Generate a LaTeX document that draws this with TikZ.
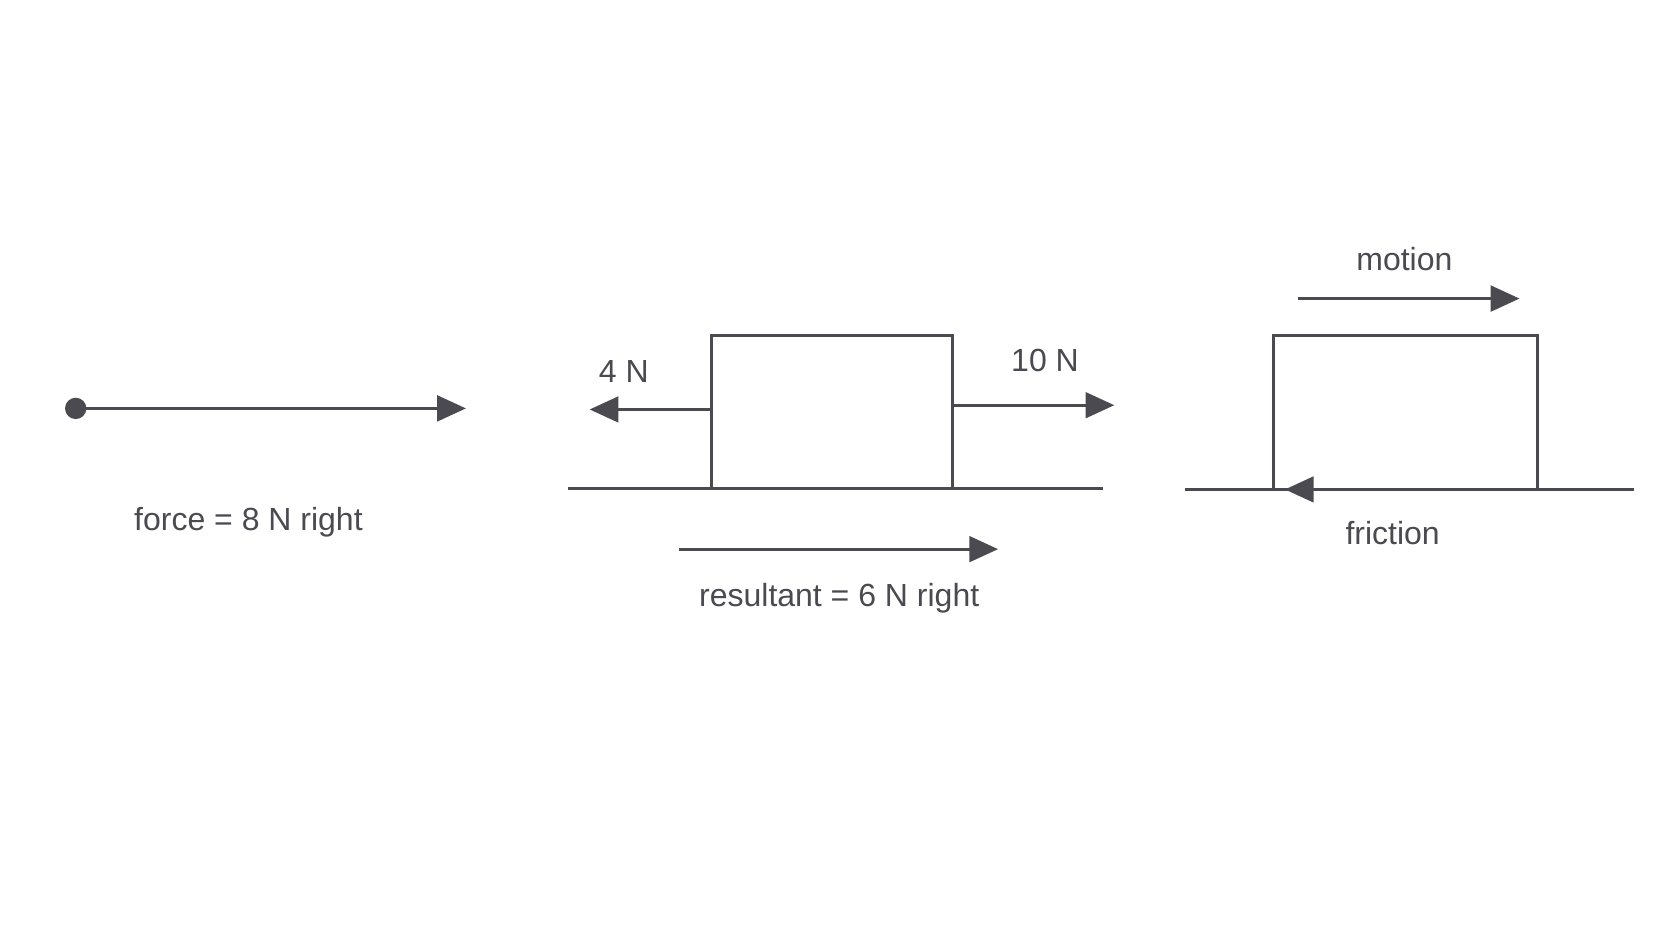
\documentclass[tikz,border=0pt]{standalone}
\usepackage{fontspec}
\setmainfont{Liberation Sans}
\usetikzlibrary{arrows.meta}
\definecolor{ink}{HTML}{4A4A50}
\begin{document}
\begin{tikzpicture}[x=1pt,y=-1pt,
  ln/.style={draw=ink,line width=3pt},
  ar/.style={ln,-{Triangle[length=27pt,width=24pt]}},
  lb/.style={text=ink,font=\fontsize{30}{34}\selectfont,inner sep=0pt}]
\useasboundingbox[fill=white] (0,0) rectangle (1568,882);
% panel 1
\fill[ink] (71,383) circle (10) coordinate (dot);
\coordinate (d1) at (71,383); \coordinate (t1) at (437,383);
\draw[ar] (d1) -- (t1);
\node[lb] (f1) at (233,490) {force = 8 N right};
% panel 2
\node[ln,minimum width=226pt,minimum height=143pt,inner sep=0pt] (b1) at (780,386.5) {};
\coordinate (g1a) at (533,458); \coordinate (g1b) at (1034,458);
\draw[ln] (g1a) -- (g1b);
\coordinate (l4) at (553,384); \coordinate (s4) at (667,384);
\draw[ar] (s4) -- (l4);
\node[lb] (n4) at (585,348) {4 N};
\coordinate (s10) at (893,380); \coordinate (t10) at (1045,380);
\draw[ar] (s10) -- (t10);
\node[lb] (n10) at (980,338) {10 N};
\coordinate (ra) at (637,515); \coordinate (rb) at (936,515);
\draw[ar] (ra) -- (rb);
\node[lb] (res) at (787,561) {resultant = 6 N right};
% panel 3
\coordinate (g2a) at (1111,459); \coordinate (g2b) at (1532,459);
\draw[ln] (g2a) -- (g2b);
\coordinate (bl) at (1194,459); \coordinate (br) at (1442,459);
\draw[ln,line join=miter] (bl) -- (1194,315) -- (1442,315) -- (br);
\coordinate (ft) at (1205,459);
\draw[ar] (br) -- (ft);
\node[lb] (fr) at (1306,500) {friction};
\coordinate (ma) at (1217,280); \coordinate (mb) at (1425,280);
\draw[ar] (ma) -- (mb);
\node[lb] (mo) at (1317,243) {motion};
\end{tikzpicture}
\end{document}
